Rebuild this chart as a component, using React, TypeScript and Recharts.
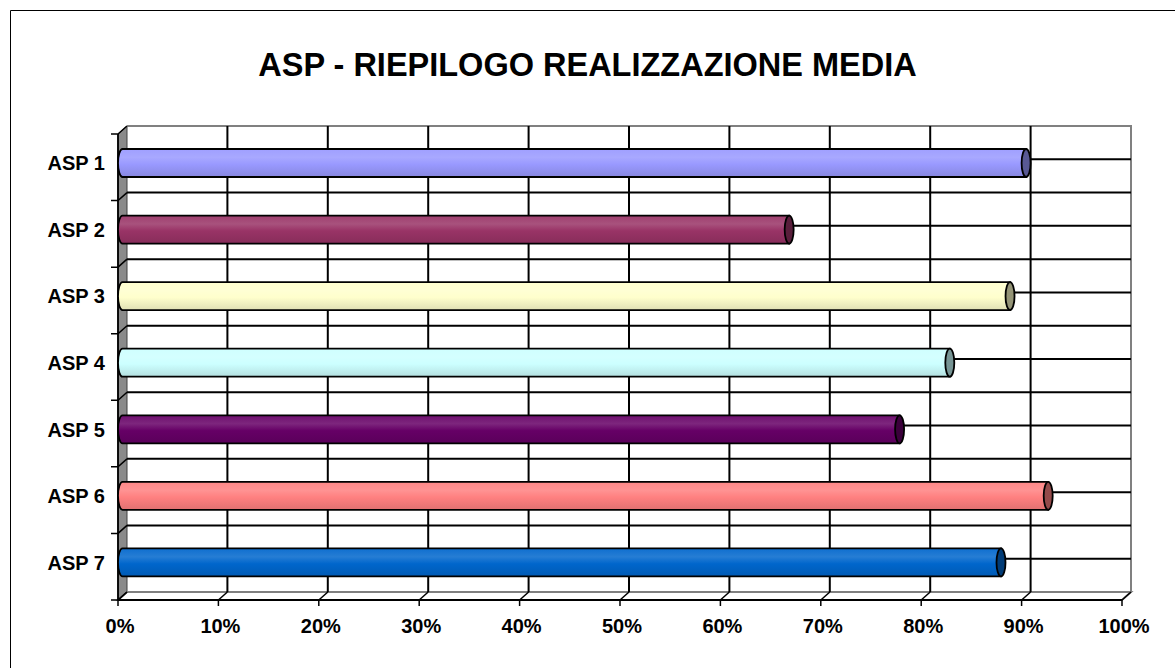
import { BarChart, Bar, XAxis, YAxis, CartesianGrid } from "recharts";

const categories = ["ASP 1", "ASP 2", "ASP 3", "ASP 4", "ASP 5", "ASP 6", "ASP 7"];
const realizzazione = [90.0, 66.4, 88.4, 82.4, 77.4, 92.2, 87.5];
const xTicks = [0, 10, 20, 30, 40, 50, 60, 70, 80, 90, 100];

const COLORS = ["#9999ff", "#993366", "#ffffcc", "#ccffff", "#660066", "#ff8080", "#0066cc"];

const W = 1175;
const H = 668;
// back wall of the 3D plot area
const PL = 127;
const PR = 1131;
const PT = 126;
const PB = 592;
// depth offset (front = back shifted left / down)
const DX = 9;
const DY = 8;
const Y_AXIS_W = 100;
const X_AXIS_H = 60;
const FONT = '"Liberation Sans", Arial, sans-serif';

const data = categories.map((name, i) => ({ name, value: realizzazione[i] }));

function mix(hex: string, target: number, t: number) {
  const n = parseInt(hex.slice(1), 16);
  const ch = [(n >> 16) & 255, (n >> 8) & 255, n & 255].map((c) =>
    Math.round(c + (target - c) * t)
  );
  return `rgb(${ch[0]},${ch[1]},${ch[2]})`;
}

function Cylinder(props: any) {
  const { x, y, width, height, index } = props;
  const base = COLORS[index % COLORS.length];
  const id = `cyl-${index}`;
  const r = height / 2;
  const cy = y + r + DY / 2;
  const x0 = x - DX / 2;
  const x1 = x + width - DX / 2;
  const rx = 4.5;
  const top = cy - r;
  const bottom = cy + r;
  return (
    <g>
      <defs>
        <linearGradient id={id} x1="0" y1="0" x2="0" y2="1">
          <stop offset="0%" stopColor={mix(base, 255, 0.06)} />
          <stop offset="30%" stopColor={mix(base, 255, 0.15)} />
          <stop offset="55%" stopColor={base} />
          <stop offset="100%" stopColor={mix(base, 0, 0.12)} />
        </linearGradient>
      </defs>
      <path
        d={`M${x0},${top} L${x1},${top} L${x1},${bottom} L${x0},${bottom} A${rx},${r} 0 0 1 ${x0},${top} Z`}
        fill={`url(#${id})`}
        stroke="#000"
        strokeWidth={1.8}
      />
      <ellipse cx={x1} cy={cy} rx={rx} ry={r} fill={mix(base, 0, 0.42)} stroke="#000" strokeWidth={1.8} />
    </g>
  );
}

function XTick(props: any) {
  const { x, payload } = props;
  const fx = x - DX;
  const fy = PB + DY;
  return (
    <g>
      <line x1={x} y1={PB} x2={fx} y2={fy} stroke="#000" strokeWidth={1.5} />
      <line x1={fx} y1={fy} x2={fx} y2={fy + 6} stroke="#000" strokeWidth={1.5} />
      <text x={fx + 2} y={633} textAnchor="middle" fontFamily={FONT} fontWeight="bold" fontSize={20} fill="#000">
        {`${payload.value}%`}
      </text>
    </g>
  );
}

function YTick(props: any) {
  const { y, payload } = props;
  return (
    <text x={105} y={y + DY / 2 + 7} textAnchor="end" fontFamily={FONT} fontWeight="bold" fontSize={20} fill="#000">
      {payload.value}
    </text>
  );
}

function Frame() {
  const band = (PB - PT) / categories.length;
  const wallTicks = Array.from({ length: categories.length + 1 }, (_, k) => PT + k * band);
  return (
    <svg width={W} height={H} style={{ position: "absolute", left: 0, top: 0 }}>
      <line x1={10.5} y1={10.5} x2={W} y2={10.5} stroke="#000" strokeWidth={1} />
      <line x1={10.5} y1={10.5} x2={10.5} y2={H} stroke="#000" strokeWidth={1} />
      <text x={587.5} y={76} textAnchor="middle" fontFamily={FONT} fontWeight="bold" fontSize={32.5} fill="#000">
        ASP - RIEPILOGO REALIZZAZIONE MEDIA
      </text>
      {/* left wall */}
      <polygon
        points={`${PL - DX},${PT + DY} ${PL},${PT} ${PL},${PB} ${PL - DX},${PB + DY}`}
        fill="#8a8a8a"
        stroke="#404040"
        strokeWidth={1}
      />
      {/* floor */}
      <polygon
        points={`${PL - DX},${PB + DY} ${PL},${PB} ${PR},${PB} ${PR - DX},${PB + DY}`}
        fill="#fff"
        stroke="#808080"
        strokeWidth={2}
      />
      {/* back wall edges */}
      <polyline points={`${PL},${PT} ${PR},${PT} ${PR},${PB}`} fill="none" stroke="#808080" strokeWidth={2} />
      {wallTicks.map((wy, k) => (
        <polyline
          key={k}
          points={`${PL - DX - 7},${wy + DY} ${PL - DX},${wy + DY} ${PL},${wy}`}
          fill="none"
          stroke="#000"
          strokeWidth={1.5}
        />
      ))}
      <line x1={PL - DX} y1={PT + DY} x2={PL - DX} y2={PB + DY} stroke="#000" strokeWidth={1.8} />
      <line x1={PL - DX} y1={PB + DY} x2={PR - DX} y2={PB + DY} stroke="#000" strokeWidth={1.8} />
    </svg>
  );
}

export default function App() {
  const halfSlots = categories.length * 2;
  return (
    <div style={{ position: "absolute", left: 0, top: 0, width: W, height: H, background: "#fff" }}>
      <Frame />
      <div style={{ position: "absolute", left: 0, top: 0 }}>
        <BarChart
          width={W}
          height={H}
          data={data}
          layout="vertical"
          margin={{ top: PT, right: W - PR, bottom: H - PB - X_AXIS_H, left: PL - Y_AXIS_W }}
        >
          <CartesianGrid
            stroke="#000"
            strokeWidth={2}
            horizontalCoordinatesGenerator={({ offset }: any) =>
              Array.from({ length: halfSlots - 1 }, (_, k) => offset.top + ((k + 1) * offset.height) / halfSlots)
            }
            verticalCoordinatesGenerator={({ offset }: any) =>
              xTicks.slice(1, -1).map((t) => offset.left + (offset.width * t) / 100)
            }
          />
          <XAxis
            type="number"
            domain={[0, 100]}
            ticks={xTicks}
            height={X_AXIS_H}
            axisLine={false}
            tickLine={false}
            tick={(p: any) => <XTick {...p} />}
            interval={0}
          />
          <YAxis
            type="category"
            dataKey="name"
            width={Y_AXIS_W}
            axisLine={false}
            tickLine={false}
            tick={(p: any) => <YTick {...p} />}
            interval={0}
          />
          <Bar dataKey="value" barSize={28} isAnimationActive={false} shape={(p: any) => <Cylinder {...p} />} />
        </BarChart>
      </div>
    </div>
  );
}
